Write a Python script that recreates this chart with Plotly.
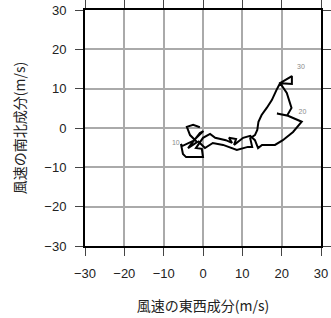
import plotly.graph_objects as go

# Hodograph path (u: east-west, v: north-south), m/s
u = [-0.8, -2.5, -4.1, -3.3, -1.5, -3.8, -0.8, 0.1, -2.5, -5.3, -5.6, -5.1, -4.3, 0.0, -0.3,
     -1.8, 0.0, 1.8, 3.1, 5.8, 7.4, 6.6, 8.4, 7.9, 10.2, 12.0, 13.2, 14.0, 15.0, 18.3, 20.3,
     22.9, 25.1, 21.6, 18.8, 21.4, 22.5, 21.3, 19.6, 22.6, 22.6, 19.6, 18.7, 17.5, 16.2, 14.9,
     14.1, 13.8, 13.2, 12.0, 12.5, 11.4, 8.6, 5.1, 2.5, 0.5, -1.3]
v = [0.2, 0.8, 0.3, -1.8, -3.6, -5.1, -1.3, -0.8, -3.3, -4.6, -4.1, -6.6, -7.4, -7.4, -5.3,
     -5.1, -2.5, -1.5, -2.5, -3.1, -3.8, -2.5, -2.8, -4.3, -2.5, -2.0, -3.1, -5.1, -4.3, -4.3,
     -3.1, -1.0, 1.6, 3.1, 3.7, 3.2, 5.1, 8.9, 11.4, 13.2, 11.2, 11.4, 9.7, 7.1, 5.1, 3.3,
     1.6, -0.5, -1.8, -2.6, -4.8, -4.8, -5.6, -4.3, -3.8, -5.1, -3.3]

label_text = ["10", "20", "30"]
label_u = [-6.9, 25.3, 24.9]
label_v = [-4.0, 4.1, 15.4]

tick_vals = [-30, -20, -10, 0, 10, 20, 30]
tick_text = ["\u221230", "\u221220", "\u221210", "0", "10", "20", "30"]

fig = go.Figure()
fig.add_trace(go.Scatter(x=u, y=v, mode="lines",
                         line=dict(color="black", width=2), hoverinfo="skip"))
fig.add_trace(go.Scatter(x=label_u, y=label_v, mode="text", text=label_text,
                         textfont=dict(size=7, color="#8a8a8a", family="Liberation Sans"),
                         hoverinfo="skip"))

axis_common = dict(
    range=[-30, 30], tickvals=tick_vals, ticktext=tick_text, automargin=False,
    showgrid=True, gridcolor="#aaaaaa", gridwidth=1.5,
    zeroline=False, showline=True, linecolor="black", linewidth=2,
    mirror="ticks", ticks="outside", ticklen=8, tickcolor="#444444", tickwidth=1,
    tickfont=dict(size=13, color="#222222", family="Liberation Sans"),
    ticklabelstandoff=6,
)
fig.update_xaxes(**axis_common,
                 title=dict(text="風速の東西成分(m/s)", standoff=22,
                            font=dict(size=14, color="#222222", family="Noto Sans CJK JP")))
fig.update_yaxes(**axis_common,
                 title=dict(text="風速の南北成分(m/s)", standoff=15,
                            font=dict(size=14, color="#222222", family="Noto Sans CJK JP")))

fig.update_layout(
    template="none",
    width=331, height=318,
    margin=dict(l=85, r=10, t=10, b=72),
    paper_bgcolor="white", plot_bgcolor="white",
    showlegend=False,
)
fig.write_html("out.html")
